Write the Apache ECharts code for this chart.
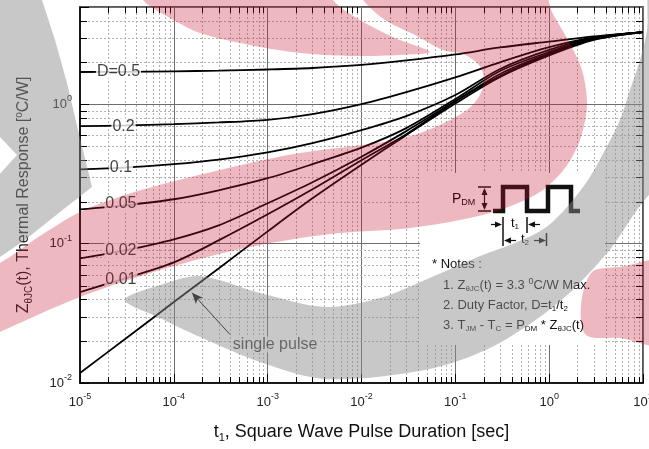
<!DOCTYPE html>
<html>
<head>
<meta charset="utf-8">
<script src="https://cdn.jsdelivr.net/npm/echarts@6/dist/echarts.min.js"></script>
<style>
  html, body { margin: 0; padding: 0; background: #fff; }
  #chart { width: 649px; height: 449px; }
</style>
</head>
<body>
<div id="chart"></div>
<script>
// Transient thermal impedance curves, Zth(j-c) versus pulse width, one per duty factor
const pulseDurations = [1e-5, 3e-5, 1e-4, 3e-4, 1e-3, 3e-3, 1e-2, 3e-2, 1e-1, 3e-1, 1, 3, 10];
const zD050   = [1.708, 1.713, 1.727, 1.747, 1.780, 1.825, 1.918, 2.066, 2.282, 2.562, 2.821, 3.075, 3.3];
const zD020   = [0.698, 0.706, 0.722, 0.742, 0.775, 0.852, 1.005, 1.226, 1.564, 2.005, 2.571, 3.024, 3.3];
const zD010   = [0.342, 0.351, 0.372, 0.401, 0.452, 0.527, 0.653, 0.824, 1.167, 1.795, 2.458, 2.999, 3.3];
const zD005   = [0.1765, 0.1886, 0.2084, 0.2418, 0.2950, 0.3720, 0.4889, 0.6753, 1.092, 1.736, 2.378, 2.974, 3.3];
const zD002   = [0.0784, 0.0895, 0.1074, 0.1354, 0.1950, 0.2761, 0.4212, 0.6426, 1.056, 1.652, 2.320, 2.950, 3.3];
const zD001   = [0.0449, 0.0563, 0.0734, 0.1056, 0.1625, 0.2458, 0.3974, 0.6114, 1.048, 1.598, 2.282, 2.925, 3.3];
const zSingle = [0.0118, 0.0206, 0.0381, 0.0664, 0.1226, 0.2118, 0.3689, 0.6014, 1.013, 1.572, 2.244, 2.901, 3.3];

// In-line curve labels (text, pulse width, impedance)
const curveLabelText = ['D=0.5', '0.2', '0.1', '0.05', '0.02', '0.01', 'single pulse'];
const curveLabelT    = [2.57e-5, 2.91e-5, 2.73e-5, 2.73e-5, 2.73e-5, 2.73e-5, 1.2e-3];
const curveLabelZ    = [1.71, 0.698, 0.354, 0.195, 0.0885, 0.0554, 0.0189];

// Leader arrow from the "single pulse" text to its curve
const arrowTail = [3.97e-4, 0.0223];
const arrowHead = [1.56e-4, 0.0444];

// Axis ranges and decade tick positions
const X_MIN = 1e-5, X_MAX = 10;
const Y_MIN = 0.01, Y_MAX = 5;
const xDecades = [1e-5, 1e-4, 1e-3, 1e-2, 1e-1, 1];
const yDecades = [0.01, 0.1, 1];
const minorSteps = [2, 3, 4, 5, 6, 7, 8, 9];

const FONT = '"Liberation Sans", Arial, Helvetica, sans-serif';

const xMinor = [];
xDecades.forEach(d => minorSteps.forEach(m => xMinor.push(d * m)));
const yMinor = [];
yDecades.forEach(d => minorSteps.forEach(m => { const v = d * m; if (v < Y_MAX - 1e-9) yMinor.push(v); }));

function powerLabel(v) {
  const e = Math.log10(v);
  const r = Math.round(e);
  if (Math.abs(e - r) > 1e-6) return '';
  return '{b|10}{e|' + r + '}';
}
const powerRich = {
  b: { fontSize: 13, lineHeight: 20, fontFamily: FONT, color: '#222' },
  e: { fontSize: 9, lineHeight: 9, verticalAlign: 'top', fontFamily: FONT, color: '#222' }
};

const px = v => Math.round(v) + 0.5;

// dashed minor grid with inward ticks on all four sides
function renderXMinor(params, api) {
  const bot = api.coord([api.value(0), Y_MIN]);
  const top = api.coord([api.value(0), Y_MAX]);
  const x = px(bot[0]);
  return { type: 'group', children: [
    { type: 'line', shape: { x1: x, y1: bot[1], x2: x, y2: top[1] }, style: { stroke: '#b0b0b0', lineWidth: 1, lineDash: [2, 2] } },
    { type: 'line', shape: { x1: x, y1: bot[1], x2: x, y2: bot[1] - 6 }, style: { stroke: '#000', lineWidth: 1 } },
    { type: 'line', shape: { x1: x, y1: top[1], x2: x, y2: top[1] + 6 }, style: { stroke: '#000', lineWidth: 1 } }
  ]};
}
function renderYMinor(params, api) {
  const l = api.coord([X_MIN, api.value(1)]);
  const r = api.coord([X_MAX, api.value(1)]);
  const y = px(l[1]);
  return { type: 'group', children: [
    { type: 'line', shape: { x1: l[0], y1: y, x2: r[0], y2: y }, style: { stroke: '#b0b0b0', lineWidth: 1, lineDash: [2, 2] } },
    { type: 'line', shape: { x1: l[0], y1: y, x2: l[0] + 7, y2: y }, style: { stroke: '#000', lineWidth: 1 } },
    { type: 'line', shape: { x1: r[0], y1: y, x2: r[0] - 7, y2: y }, style: { stroke: '#000', lineWidth: 1 } }
  ]};
}

function curve(name, values) {
  return {
    name, type: 'line', showSymbol: false, smooth: 0.3, z: 3,
    lineStyle: { color: '#000', width: 1.8 },
    data: pulseDurations.map((t, i) => [t, values[i]])
  };
}

// Background logo swooshes, laid over the plot as translucent shapes
const RED = 'rgba(200,20,50,0.30)';
const GRAY = 'rgba(140,140,140,0.48)';
const logoShapes = [
  { fill: RED, smooth: 0.3, pts: [[140,-20],[330,-20],[333,0],[360,20],[395,38],[430,52],[400,55],[350,56],[300,53],[250,45],[200,33],[170,18],[143,0]] },
  { fill: RED, smooth: 0.3, pts: [[357,-15],[540,-15],[552,12],[568,40],[582,70],[587,105],[580,140],[565,168],[540,192],[500,210],[450,222],[400,229],[330,234],[250,247],[167,268],[80,297],[0,332],[-20,342],[-20,270],[0,263],[40,236],[80,212],[125,195],[167,183],[250,163],[300,153],[362,145],[400,139],[433,128],[467,110],[480,95],[484,78],[478,64],[463,54],[443,50],[415,35],[385,20],[363,0]] },
  { fill: RED, smooth: 0.3, pts: [[592,272],[620,267],[670,262],[670,345],[620,338],[586,335],[581,305]] },
  { fill: GRAY, smooth: 0, pts: [[-20,-20],[45,-20],[42,0],[55,40],[67,83],[78,130],[92,187],[60,212],[25,240],[0,257],[-20,265],[-20,178],[-2,176],[17,155],[-2,135],[-20,133]] },
  { fill: GRAY, smooth: 0.3, pts: [[650,-20],[670,-20],[670,190],[649,195],[608,252],[558,303],[492,347],[425,370],[325,379],[260,362],[200,337],[160,318],[125,300],[160,285],[200,276],[260,293],[325,307],[380,298],[425,280],[480,256],[515,243],[545,228],[567,207],[588,180],[605,150],[620,120],[630,90],[640,60],[647,30]] }
];

const noteRich = {
  n: { fontSize: 13, lineHeight: 16, fontFamily: FONT, color: '#111' },
  s: { fontSize: 8, lineHeight: 6, verticalAlign: 'bottom', fontFamily: FONT, color: '#111' },
  p: { fontSize: 9, lineHeight: 9, verticalAlign: 'top', fontFamily: FONT, color: '#111' }
};
function noteText(x, y, text) {
  return { type: 'text', x, y, z: 5, silent: true,
    style: { text, rich: noteRich, align: 'left', verticalAlign: 'middle', font: '13px ' + FONT, fill: '#111' } };
}
function seg(x1, y1, x2, y2, w) {
  return { type: 'line', z: 5, silent: true, shape: { x1, y1, x2, y2 }, style: { stroke: '#111', lineWidth: w || 1.5 } };
}
function tri(points) {
  return { type: 'polygon', z: 5, silent: true, shape: { points }, style: { fill: '#111' } };
}

const graphics = [
  // notes panel
  { type: 'rect', z: 3, silent: true, shape: { x: 420, y: 173, width: 185, height: 172 }, style: { fill: '#fff' } },
  // pulse train sketch
  { type: 'polyline', z: 5, silent: true,
    shape: { points: [[493,211],[503,211],[503,187],[527,187],[527,211],[548,211],[548,187],[571,187],[571,211],[580,211]] },
    style: { stroke: '#111', lineWidth: 4.5, lineJoin: 'miter', fill: null } },
  { type: 'text', x: 452, y: 199, z: 5, silent: true,
    style: { text: '{n|P}{s|DM}', rich: { n: { fontSize: 14, lineHeight: 16, fontFamily: FONT, color: '#111' }, s: { fontSize: 9, lineHeight: 6, verticalAlign: 'bottom', fontFamily: FONT, color: '#111' } }, align: 'left', verticalAlign: 'middle' } },
  seg(478, 187, 491, 187), seg(478, 211, 491, 211), seg(484.5, 190, 484.5, 208, 1.2),
  tri([[484.5,188],[481.5,195],[487.5,195]]), tri([[484.5,210],[481.5,203],[487.5,203]]),
  seg(503, 217, 503, 246), seg(527, 217, 527, 233), seg(546.5, 233, 546.5, 246),
  seg(491, 224.5, 499, 224.5, 1.2), tri([[502,224.5],[495,221.5],[495,227.5]]),
  seg(531, 224.5, 540, 224.5, 1.2), tri([[528,224.5],[535,221.5],[535,227.5]]),
  seg(508, 240.5, 516, 240.5, 1.2), tri([[504,240.5],[511,237.5],[511,243.5]]),
  seg(534, 240.5, 542, 240.5, 1.2), tri([[546,240.5],[539,237.5],[539,243.5]]),
  noteText(511, 223, '{n|t}{s|1}'),
  noteText(521, 239, '{n|t}{s|2}'),
  noteText(432, 264, '{n|* Notes :}'),
  noteText(443, 285, '{n|1. Z}{s|θJC}{n|(t) = 3.3 }{p|0}{n|C/W Max.}'),
  noteText(443, 305, '{n|2. Duty Factor, D=t}{s|1}{n|/t}{s|2}'),
  noteText(443, 325, '{n|3. T}{s|JM}{n| - T}{s|C}{n| = P}{s|DM}{n| * Z}{s|θJC}{n|(t)}')
].concat(logoShapes.map(s => ({
  type: 'polygon', z: 50, silent: true,
  shape: { points: s.pts, smooth: s.smooth },
  style: { fill: s.fill }
})));

const chart = echarts.init(document.getElementById('chart'), null, { renderer: 'canvas' });
chart.setOption({
  animation: false,
  backgroundColor: '#fff',
  grid: {
    left: 80, right: 6, top: 7, bottom: 66,
    containLabel: false, outerBoundsMode: 'none',
    show: true, borderColor: '#222', borderWidth: 1.5, backgroundColor: 'transparent'
  },
  xAxis: {
    type: 'log', logBase: 10, min: X_MIN, max: X_MAX,
    axisLine: { show: true, onZero: false, lineStyle: { color: '#000', width: 1.5 } },
    axisTick: { show: true, inside: true, length: 9, lineStyle: { color: '#000', width: 1 } },
    axisLabel: { formatter: powerLabel, rich: powerRich, margin: 9 },
    splitLine: { show: true, lineStyle: { color: '#6e6e6e', width: 1 } },
    name: '{t|t}{s|1}{t|, Square Wave Pulse Duration [sec]}',
    nameLocation: 'middle', nameGap: 38,
    nameTextStyle: { rich: {
      t: { fontSize: 18, lineHeight: 22, fontFamily: FONT, color: '#111' },
      s: { fontSize: 11, lineHeight: 8, verticalAlign: 'bottom', fontFamily: FONT, color: '#111' }
    } }
  },
  yAxis: {
    type: 'log', logBase: 10, min: Y_MIN, max: Y_MAX,
    axisLine: { show: true, onZero: false, lineStyle: { color: '#000', width: 1.5 } },
    axisTick: { show: true, inside: true, length: 9, lineStyle: { color: '#000', width: 1 } },
    axisLabel: { formatter: powerLabel, rich: powerRich, margin: 8 },
    splitLine: { show: true, lineStyle: { color: '#6e6e6e', width: 1 } },
    name: '{t|Z}{s|θJC}{t|(t), Thermal Response [}{p|o}{t|C/W]}',
    nameLocation: 'middle', nameRotate: 90, nameGap: 46,
    nameTextStyle: { rich: {
      t: { fontSize: 16, lineHeight: 20, fontFamily: FONT, color: '#222' },
      s: { fontSize: 10, lineHeight: 8, verticalAlign: 'bottom', fontFamily: FONT, color: '#222' },
      p: { fontSize: 10, lineHeight: 10, verticalAlign: 'top', fontFamily: FONT, color: '#222' }
    } }
  },
  series: [
    { type: 'custom', name: 'xMinorGrid', renderItem: renderXMinor, silent: true, z: 1,
      data: xMinor.map(v => [v, Y_MIN]) },
    { type: 'custom', name: 'yMinorGrid', renderItem: renderYMinor, silent: true, z: 1,
      data: yMinor.map(v => [X_MIN, v]) },
    curve('D=0.5', zD050),
    curve('D=0.2', zD020),
    curve('D=0.1', zD010),
    curve('D=0.05', zD005),
    curve('D=0.02', zD002),
    curve('D=0.01', zD001),
    Object.assign(curve('single pulse', zSingle), {
      markLine: {
        silent: true, animation: false,
        symbol: ['none', 'arrow'], symbolSize: [7, 11],
        lineStyle: { color: '#000', width: 1, type: 'solid' },
        label: { show: false },
        data: [[{ coord: arrowTail }, { coord: arrowHead }]]
      }
    }),
    {
      type: 'scatter', name: 'curveLabels', silent: true, z: 4,
      symbolSize: 0.1, itemStyle: { color: 'rgba(0,0,0,0)' },
      label: {
        show: true, position: 'inside', formatter: '{b}',
        fontSize: 16, fontFamily: FONT, color: '#111',
        backgroundColor: '#fff', padding: [0, 1]
      },
      data: curveLabelT.map((t, i) => ({ name: curveLabelText[i], value: [t, curveLabelZ[i]] }))
    }
  ],
  graphic: graphics
});
</script>
</body>
</html>
